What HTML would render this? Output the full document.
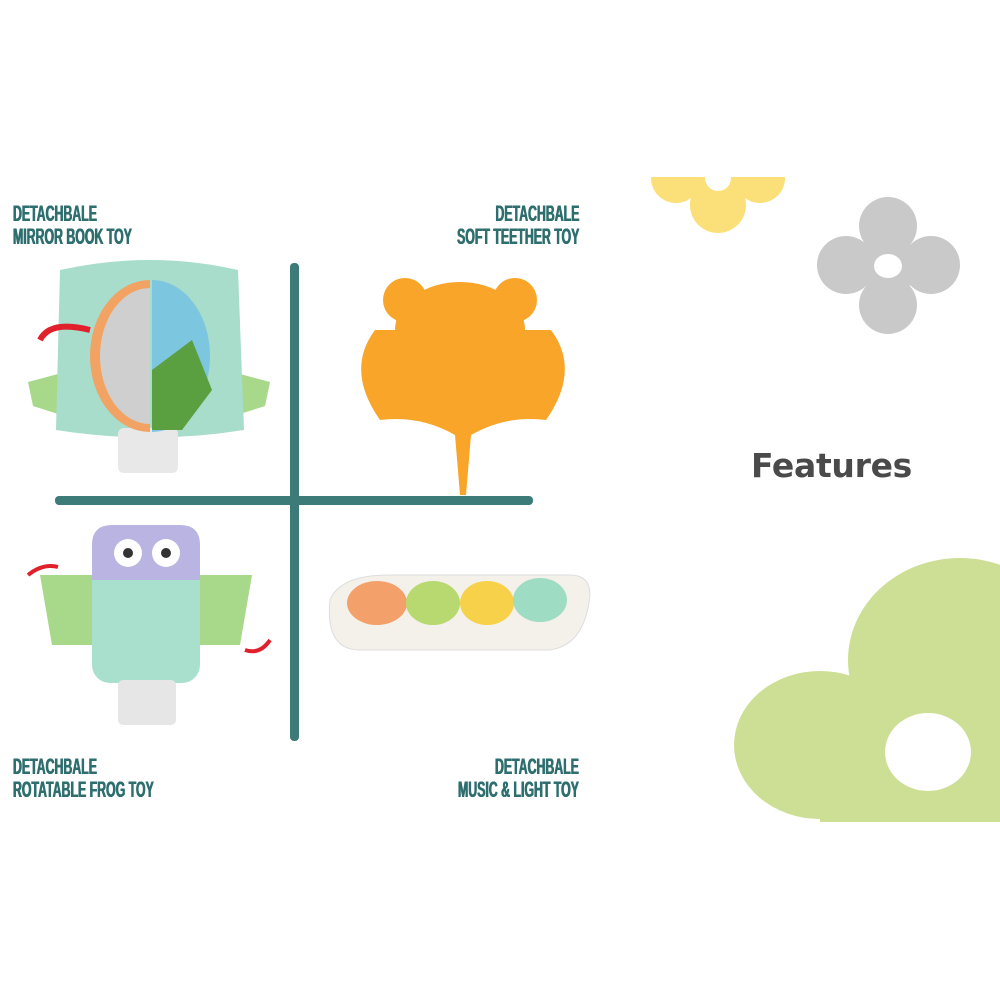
<!DOCTYPE html>
<html><head><meta charset="utf-8"><style>
body{margin:0;width:1000px;height:1000px;background:#fff;position:relative;overflow:hidden;font-family:"Liberation Sans",sans-serif}
.l{position:absolute;color:#2e6e6e;font-weight:bold;font-size:22px;line-height:23px;white-space:nowrap;transform:scaleX(0.56);text-shadow:0.6px 0 0 #2e6e6e,-0.6px 0 0 #2e6e6e}
.lt{transform-origin:left top}.rt{transform-origin:right top;text-align:right}
</style></head><body>
<svg width="1000" height="1000" style="position:absolute;left:0;top:0">
<defs><clipPath id="c"><rect x="0" y="177" width="1000" height="645"/></clipPath></defs>
<g clip-path="url(#c)">
<g fill="#fbe07a"><circle cx="676" cy="178" r="25"/><circle cx="760" cy="178" r="25"/><circle cx="718" cy="205" r="28"/><circle cx="718" cy="182" r="26"/></g>
<circle cx="718" cy="178" r="13" fill="#fff"/>
<g fill="#c9c9c9"><circle cx="888" cy="226" r="29"/><circle cx="888" cy="305" r="29"/><circle cx="846" cy="265" r="29"/><circle cx="931" cy="265" r="29"/><circle cx="888" cy="265" r="30"/></g>
<ellipse cx="888" cy="266" rx="14" ry="12" fill="#fff"/>
<g fill="#cddf94"><ellipse cx="820" cy="745" rx="86" ry="74"/><ellipse cx="960" cy="660" rx="112" ry="102"/><rect x="820" y="690" width="180" height="140"/></g>
<ellipse cx="928" cy="752" rx="43" ry="39" fill="#fff"/>
</g>
<rect x="290" y="263" width="9" height="478" rx="4" fill="#3d7b79"/>
<rect x="55" y="496" width="478" height="9" rx="4" fill="#3d7b79"/>
<!-- mirror toy -->
<path d="M28 382 l30-8 0 40 -25-8z" fill="#a8d88a"/><path d="M270 382 l-30-8 0 40 25-8z" fill="#a8d88a"/>
<path d="M60 270 Q150 250 238 270 L244 430 Q150 445 56 430Z" fill="#a8dccb"/>
<rect x="118" y="428" width="60" height="45" rx="6" fill="#e8e8e8"/>
<path d="M150 280 A60 76 0 0 0 150 432Z" fill="#f2a262"/><path d="M150 288 A50 68 0 0 0 150 424Z" fill="#cfcfcf"/>
<path d="M152 280 A58 76 0 0 1 152 432Z" fill="#7cc6e0"/><path d="M152 370 l40-30 20 50 -30 40 -30 0z" fill="#5aa040"/>
<path d="M40 340 q10-20 50-10" stroke="#e0202a" stroke-width="6" fill="none"/>
<!-- frog teether -->
<g fill="#f8a52a">
<circle cx="405" cy="300" r="22"/><circle cx="515" cy="300" r="22"/>
<ellipse cx="460" cy="330" rx="65" ry="48"/>
<path d="M375 330 q-30 40 5 90 q40 -5 75 15 l5 60 h6 l5-60 q35-20 75-15 q35-50 5-90 z"/>
</g>
<!-- owl -->
<rect x="92" y="528" width="108" height="155" rx="18" fill="#a9e0cd"/>
<path d="M92 545 q0-20 20-20 h68 q20 0 20 20 v35 h-108z" fill="#b9b4e2"/>
<circle cx="128" cy="553" r="14" fill="#fff"/><circle cx="166" cy="553" r="14" fill="#fff"/>
<circle cx="128" cy="553" r="5" fill="#333"/><circle cx="166" cy="553" r="5" fill="#333"/>
<path d="M40 575 h52 v70 h-40z" fill="#a8d88a"/><path d="M252 575 h-52 v70 h40z" fill="#a8d88a"/>
<rect x="118" y="680" width="58" height="45" rx="5" fill="#e6e6e6"/>
<path d="M28 575 q15-12 30-8" stroke="#e0202a" stroke-width="4" fill="none"/><path d="M245 650 q15 5 25-10" stroke="#e0202a" stroke-width="4" fill="none"/>
<!-- piano -->
<path d="M330 600 q10-25 60-25 h180 q20 0 20 20 q-5 50 -40 55 h-190 q-35 0 -30-50z" fill="#f4f1ea" stroke="#ddd"/>
<ellipse cx="377" cy="603" rx="30" ry="22" fill="#f4a06a"/><ellipse cx="433" cy="603" rx="27" ry="22" fill="#b8d870"/>
<ellipse cx="487" cy="603" rx="27" ry="22" fill="#f8d14a"/><ellipse cx="540" cy="600" rx="27" ry="22" fill="#9edcc4"/>
</svg>
<div class="l lt" style="left:13px;top:202px">DETACHBALE<br>MIRROR BOOK TOY</div>
<div class="l rt" style="right:421px;top:202px">DETACHBALE<br>SOFT TEETHER TOY</div>
<div class="l lt" style="left:13px;top:755px">DETACHBALE<br>ROTATABLE FROG TOY</div>
<div class="l rt" style="right:421px;top:755px">DETACHBALE<br>MUSIC &amp; LIGHT TOY</div>
<div style="position:absolute;left:751px;top:446px;font-size:33px;font-weight:bold;color:#4a4a4a;font-family:'DejaVu Sans',sans-serif;letter-spacing:-0.3px">Features</div>
</body></html>
